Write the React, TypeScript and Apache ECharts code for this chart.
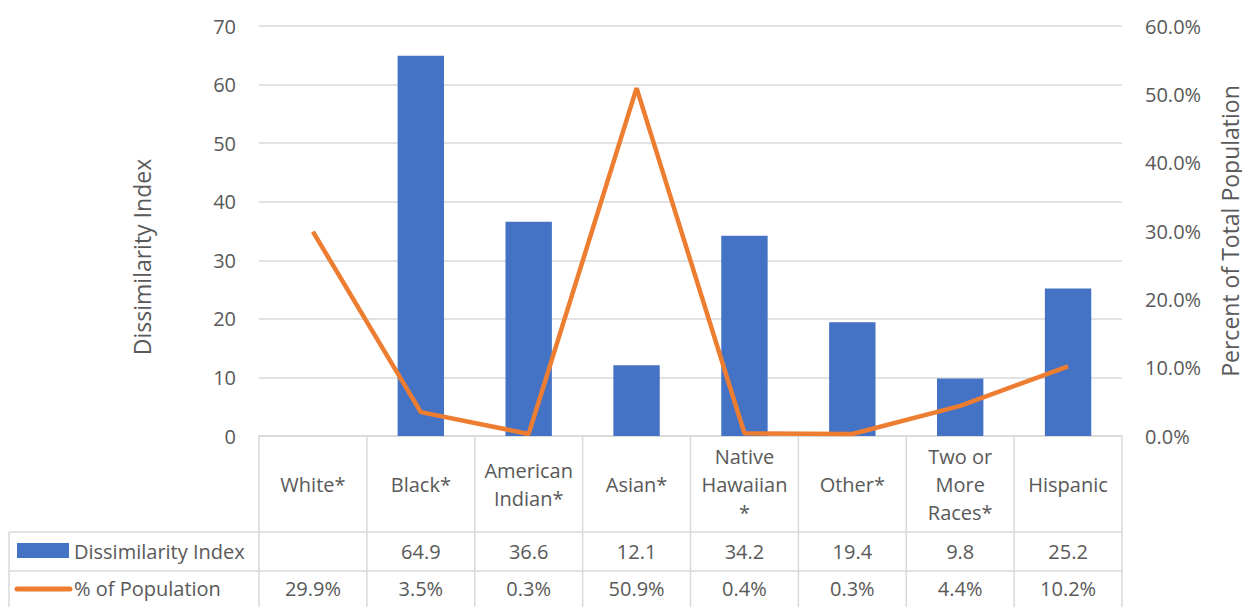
import React, { useEffect, useRef } from "react";
import * as echarts from "echarts";

const categories = ["White*", "Black*", "American\nIndian*", "Asian*", "Native\nHawaiian\n*", "Other*", "Two or\nMore\nRaces*", "Hispanic"];
const dissimilarity: (number | null)[] = [null, 64.9, 36.6, 12.1, 34.2, 19.4, 9.8, 25.2];
const populationPct = [29.9, 3.5, 0.3, 50.9, 0.4, 0.3, 4.4, 10.2];
const seriesNames = ["Dissimilarity Index", "% of Population"];
const leftAxisTitle = "Dissimilarity Index";
const rightAxisTitle = "Percent of Total Population";

const FONT = "'Open Sans', sans-serif";
const FS = 20;
const TFS = 23;
const TXT = "#595959";
const GRID = "#d9d9d9";
const BLUE = "#4472C4";
const ORANGE = "#ED7D31";

export default function App() {
  const ref = useRef<HTMLDivElement>(null);
  useEffect(() => {
    document.body.style.margin = "0";
    const chart = echarts.init(ref.current!, null, { renderer: "svg" });
    const left = 259, right = 120, top = 26, bottom = 171;
    const W = 1242, H = 607;
    chart.setOption({
      animation: false,
      textStyle: { fontFamily: FONT },
      grid: { left, right, top, bottom, containLabel: false, outerBoundsMode: "none" },
      xAxis: {
        type: "category",
        data: categories,
        axisLine: { show: true, lineStyle: { color: GRID, width: 1.5 } },
        axisTick: { show: false },
        axisLabel: {
          color: TXT, fontSize: FS, fontFamily: FONT, interval: 0,
          margin: 48, verticalAlign: "middle", lineHeight: 28, align: "center",
        },
      },
      yAxis: [
        {
          type: "value", min: 0, max: 70, interval: 10,
          axisLabel: { color: TXT, fontSize: FS, fontFamily: FONT, margin: 23 },
          axisLine: { show: false }, axisTick: { show: false },
          splitLine: { lineStyle: { color: GRID, width: 1.5 } },
        },
        {
          type: "value", min: 0, max: 60, interval: 10, position: "right",
          axisLabel: { color: TXT, fontSize: FS, fontFamily: FONT, margin: 23, formatter: (v: number) => v.toFixed(1) + "%" },
          axisLine: { show: false }, axisTick: { show: false },
          splitLine: { show: false },
        },
      ],
      series: [
        { name: seriesNames[0], type: "bar", data: dissimilarity, barWidth: "43%", itemStyle: { color: BLUE } },
        {
          name: seriesNames[1], type: "line", yAxisIndex: 1, data: populationPct,
          showSymbol: false, symbol: "none", lineStyle: { color: ORANGE, width: 4.5 },
        },
      ],
    });

    const plotRight = W - right;
    const axisY = H - bottom;
    const row1 = 532, row2 = 571;
    const n = categories.length;
    const step = (plotRight - left) / n;
    const g: any[] = [];
    const ls = { stroke: GRID, lineWidth: 1.5 };
    g.push({ type: "line", shape: { x1: 9, y1: row1, x2: plotRight, y2: row1 }, style: ls });
    g.push({ type: "line", shape: { x1: 9, y1: row2, x2: plotRight, y2: row2 }, style: ls });
    g.push({ type: "line", shape: { x1: 9, y1: row1, x2: 9, y2: H }, style: ls });
    for (let i = 0; i <= n; i++) {
      const x = left + i * step;
      g.push({ type: "line", shape: { x1: x, y1: axisY, x2: x, y2: H }, style: ls });
    }
    g.push({ type: "text", x: 142, y: 257, rotation: Math.PI / 2, style: { text: leftAxisTitle, fill: TXT, font: `${TFS}px ${FONT}`, textAlign: "center", textVerticalAlign: "middle" } });
    g.push({ type: "text", x: 1230, y: 231, rotation: Math.PI / 2, style: { text: rightAxisTitle, fill: TXT, font: `${TFS}px ${FONT}`, textAlign: "center", textVerticalAlign: "middle" } });
    g.push({ type: "rect", shape: { x: 17, y: 543, width: 52, height: 15 }, style: { fill: BLUE } });
    g.push({ type: "line", shape: { x1: 17, y1: 589, x2: 70, y2: 589 }, style: { stroke: ORANGE, lineWidth: 5, lineCap: "round" } });
    g.push({ type: "text", x: 74, y: 551, style: { text: seriesNames[0], fill: TXT, font: `${FS}px ${FONT}`, textVerticalAlign: "middle", textAlign: "left" } });
    g.push({ type: "text", x: 74, y: 588, style: { text: seriesNames[1], fill: TXT, font: `${FS}px ${FONT}`, textVerticalAlign: "middle", textAlign: "left" } });
    for (let i = 0; i < n; i++) {
      const cx = chart.convertToPixel({ xAxisIndex: 0 }, categories[i]) as number;
      const d = dissimilarity[i];
      if (d !== null) {
        g.push({ type: "text", x: cx, y: 551, style: { text: d.toFixed(1), fill: TXT, font: `${FS}px ${FONT}`, textAlign: "center", textVerticalAlign: "middle" } });
      }
      g.push({ type: "text", x: cx, y: 588, style: { text: populationPct[i].toFixed(1) + "%", fill: TXT, font: `${FS}px ${FONT}`, textAlign: "center", textVerticalAlign: "middle" } });
    }
    chart.setOption({ graphic: g });
    return () => chart.dispose();
  }, []);
  return <div ref={ref} style={{ width: 1242, height: 607 }} />;
}
